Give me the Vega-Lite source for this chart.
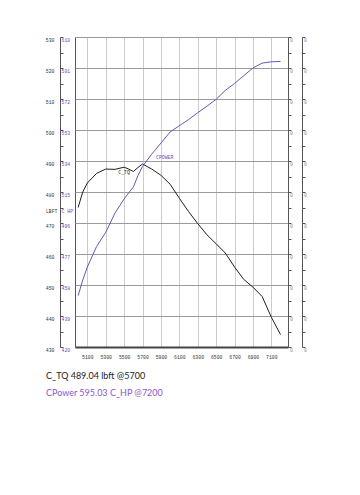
{
  "$schema": "https://vega.github.io/schema/vega-lite/v6.json",
  "width": 213,
  "height": 310,
  "autosize": {"type": "none"},
  "padding": {"left": 75, "top": 37, "right": 72, "bottom": 148},
  "background": "white",
  "config": {
    "view": {"stroke": "#555", "strokeWidth": 1},
    "axis": {"labelFont": "Liberation Mono", "labelFontSize": 4.8, "titleFont": "Liberation Mono", "titleFontSize": 4.8, "titleFontWeight": "normal", "format": "d"}
  },
  "title": {
    "text": "C_TQ 489.04 lbft @5700",
    "subtitle": "CPower 595.03 C_HP @7200",
    "orient": "bottom",
    "anchor": "start",
    "frame": "group",
    "dx": -29,
    "offset": 13,
    "font": "Lato",
    "fontSize": 9,
    "fontWeight": "normal",
    "color": "#222",
    "subtitleFont": "Lato",
    "subtitleFontSize": 9,
    "subtitleColor": "#8a55d0",
    "subtitlePadding": 8.5
  },
  "data": {
    "values": [
      {"rpm": 5000, "tq": 475.0, "hp": 451.5},
      {"rpm": 5050, "tq": 480.0, "hp": 461.0},
      {"rpm": 5100, "tq": 482.9, "hp": 469.0},
      {"rpm": 5200, "tq": 486.0, "hp": 481.5},
      {"rpm": 5300, "tq": 487.4, "hp": 490.3},
      {"rpm": 5400, "tq": 487.3, "hp": 502.0},
      {"rpm": 5500, "tq": 488.0, "hp": 510.8},
      {"rpm": 5550, "tq": 487.4, "hp": 514.5},
      {"rpm": 5600, "tq": 486.6, "hp": 518.0},
      {"rpm": 5650, "tq": 487.9, "hp": 525.0},
      {"rpm": 5700, "tq": 489.04, "hp": 530.7},
      {"rpm": 5800, "tq": 487.4, "hp": 538.2},
      {"rpm": 5900, "tq": 485.4, "hp": 545.0},
      {"rpm": 6000, "tq": 482.5, "hp": 551.8},
      {"rpm": 6100, "tq": 478.0, "hp": 555.6},
      {"rpm": 6200, "tq": 473.7, "hp": 559.4},
      {"rpm": 6300, "tq": 469.8, "hp": 563.6},
      {"rpm": 6400, "tq": 466.2, "hp": 567.6},
      {"rpm": 6500, "tq": 463.3, "hp": 571.8},
      {"rpm": 6600, "tq": 460.3, "hp": 577.3},
      {"rpm": 6700, "tq": 455.8, "hp": 581.5},
      {"rpm": 6800, "tq": 451.8, "hp": 586.3},
      {"rpm": 6900, "tq": 449.3, "hp": 591.0},
      {"rpm": 7000, "tq": 446.3, "hp": 594.0},
      {"rpm": 7100, "tq": 439.6, "hp": 594.8},
      {"rpm": 7200, "tq": 434.0, "hp": 595.03}
    ]
  },
  "encoding": {
    "x": {
      "field": "rpm",
      "type": "quantitative",
      "scale": {"domain": [4966, 7281], "nice": false, "zero": false},
      "axis": {
        "title": null,
        "values": [5100, 5300, 5500, 5700, 5900, 6100, 6300, 6500, 6700, 6900, 7100],
        "ticks": false,
        "labelPadding": 7,
        "labelColor": "#333",
        "labelFlush": false,
        "labelOverlap": false,
        "domainColor": "#444",
        "domainWidth": 2,
        "grid": true,
        "gridColor": "#999",
        "gridDash": [1, 1],
        "gridWidth": 1
      }
    }
  },
  "layer": [
    {
      "mark": {"type": "line", "color": "#1e1e1e", "strokeWidth": 1},
      "encoding": {
        "y": {
          "field": "tq",
          "type": "quantitative",
          "scale": {"domain": [430, 530], "nice": false, "zero": false},
          "axis": {
            "orient": "left",
            "offset": 15,
            "values": [430, 440, 450, 460, 470, 480, 490, 500, 510, 520, 530],
            "ticks": false,
            "labelPadding": 6,
            "labelOffset": 3,
            "labelColor": "#333",
            "labelOverlap": false,
            "domainColor": "#555",
            "grid": true,
            "gridColor": "#9a9a9a",
            "gridWidth": 1,
            "title": "LBFT",
            "titleAngle": 0,
            "titleX": -3,
            "titleY": 174,
            "titleAlign": "right",
            "titleBaseline": "middle",
            "titleColor": "#333"
          }
        }
      }
    },
    {
      "mark": {"type": "line", "color": "#6a55b8", "strokeWidth": 1},
      "encoding": {
        "y": {
          "field": "hp",
          "type": "quantitative",
          "scale": {"domain": [420, 610], "nice": false, "zero": false},
          "axis": {
            "orient": "right",
            "offset": -228,
            "values": [420, 429.5, 439, 448.5, 458, 467.5, 477, 486.5, 496, 505.5, 515, 524.5, 534, 543.5, 553, 562.5, 572, 581.5, 591, 600.5, 610],
            "labelExpr": "(datum.value - 420) % 19 == 0 ? datum.label : ''",
            "labelOverlap": false,
            "ticks": true,
            "tickSize": 3,
            "tickColor": "#555",
            "labelPadding": -2,
            "labelOffset": 3,
            "labelColor": "#7a45c0",
            "domain": false,
            "grid": false,
            "title": "C HP",
            "titleAngle": 0,
            "titleX": 1,
            "titleY": 174,
            "titleAlign": "left",
            "titleBaseline": "middle",
            "titleColor": "#7a45c0"
          }
        }
      }
    },
    {
      "data": {"values": [{"rpm": 5437, "v": 486.2, "label": "C_TQ"}]},
      "mark": {"type": "text", "align": "left", "baseline": "middle", "font": "Liberation Mono", "fontSize": 4.8, "color": "#1e1e1e"},
      "encoding": {
        "y": {"field": "v", "type": "quantitative", "scale": {"domain": [430, 530], "nice": false, "zero": false}, "axis": null},
        "text": {"field": "label"}
      }
    },
    {
      "data": {"values": [{"rpm": 5847, "v": 491.0, "label": "CPOWER"}]},
      "mark": {"type": "text", "align": "left", "baseline": "middle", "font": "Liberation Mono", "fontSize": 4.8, "color": "#7a45c0"},
      "encoding": {
        "y": {"field": "v", "type": "quantitative", "scale": {"domain": [430, 530], "nice": false, "zero": false}, "axis": null},
        "text": {"field": "label"}
      }
    },
    {
      "mark": {"type": "line", "opacity": 0},
      "encoding": {
        "y": {
          "field": "tq",
          "type": "quantitative",
          "scale": {"domain": [430, 530], "nice": false, "zero": false},
          "axis": {
            "orient": "right",
            "offset": 0,
            "values": [430, 435, 440, 445, 450, 455, 460, 465, 470, 475, 480, 485, 490, 495, 500, 505, 510, 515, 520, 525, 530],
            "labelExpr": "datum.value % 10 == 0 ? '0' : ''",
            "labelOverlap": false,
            "ticks": true,
            "tickSize": 3,
            "tickColor": "#555",
            "labelPadding": -1.5,
            "labelOffset": 3,
            "labelColor": "#8a7fb0",
            "domainColor": "#555",
            "grid": false,
            "title": null
          }
        }
      }
    },
    {
      "mark": {"type": "line", "opacity": 0},
      "encoding": {
        "y": {
          "field": "tq",
          "type": "quantitative",
          "scale": {"domain": [430, 530], "nice": false, "zero": false},
          "axis": {
            "orient": "right",
            "offset": 14,
            "values": [430, 435, 440, 445, 450, 455, 460, 465, 470, 475, 480, 485, 490, 495, 500, 505, 510, 515, 520, 525, 530],
            "labelExpr": "datum.value % 10 == 0 ? '0' : ''",
            "labelOverlap": false,
            "ticks": true,
            "tickSize": 3,
            "tickColor": "#555",
            "labelPadding": -1.5,
            "labelOffset": 3,
            "labelColor": "#8a7fb0",
            "domainColor": "#555",
            "grid": false,
            "title": null
          }
        }
      }
    }
  ],
  "resolve": {"scale": {"y": "independent"}, "axis": {"y": "independent"}}
}
